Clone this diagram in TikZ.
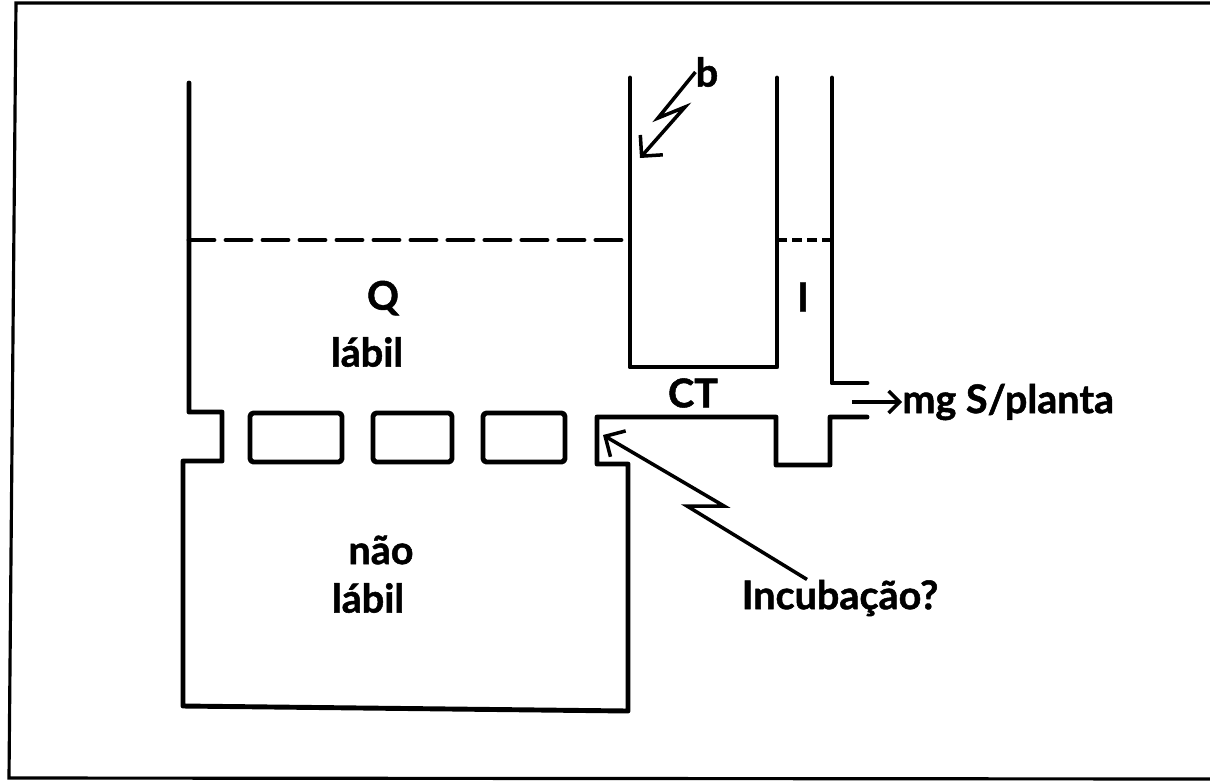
\documentclass[tikz,border=0pt]{standalone}
\usepackage{fontspec}
\setmainfont{Lato}[BoldFeatures={FakeBold=1.3}]
\usetikzlibrary{arrows.meta}

\begin{document}
\begin{tikzpicture}[x=0.02cm,y=-0.02cm,
    wall/.style={line width=2.8pt,line join=round,line cap=round},
    lbl/.style={font=\fontsize{22.5}{27}\selectfont\bfseries,inner sep=0pt},
    zig/.style={line width=2pt,line join=miter,
        -{Straight Barb[length=3mm,width=6mm,line width=2pt]}}]

    \useasboundingbox (0,0) rectangle (1210,782);

    % Frame
    \draw[line width=1.8pt] (1210,3) -- (16,3) -- (9,778) -- (1210,779);

    % Q labil and the lower box
    \draw[wall] (189,83) -- (189,412) -- (222,412) -- (222,461) -- (183,461)
                -- (183,706) -- (628,711) -- (628,464) -- (597,464) -- (597,417)
                -- (776,417) -- (776,465) -- (830,465) -- (830,417) -- (867,417);

    % Inner tube
    \draw[wall] (630,78) -- (630,367) -- (777,367) -- (777,78);

    % I tube
    \draw[wall] (832,78) -- (832,383) -- (867,383);

    % Blocks
    \foreach \xa/\xb in {250/342,373/452,483/565}
        \draw[wall,rounded corners=2pt] (\xa,413) rectangle (\xb,462);

    % Levels
    \draw[wall,dash pattern=on 0.5cm off 0.24cm] (189,240) -- (630,240);
    \draw[line width=2.2pt,dash pattern=on 0.2cm off 0.1cm] (777,240) -- (832,240);

    % Labels
    \node[lbl] (q) at (383,298) {Q};
    \node[lbl] (qlab) at (367,352) {lábil};
    \node[lbl] (b) at (707,72) {b};
    \node[lbl] (i) at (803,297) {I};
    \node[lbl] (ct) at (693,393) {CT};
    \node[lbl,anchor=west] (mg) at (902,402) {mg S/planta};
    \node[lbl] (nao) at (381,550) {não};
    \node[lbl] (nlab) at (368,598) {lábil};
    \node[lbl] (inc) at (840,598) {Incubação?};

    % Arrows
    \coordinate (btip) at (640,158);
    \coordinate (inctip) at (603,435);
    \draw[zig] (b.west) -- (658,118) -- (685,107) -- (btip);
    \draw[zig] ([xshift=-0.66cm]inc.north) -- (687,506) -- (724,506) -- (inctip);
    \draw[line width=2pt,-{Straight Barb[length=2.2mm,width=4.4mm,line width=2pt]}]
        (852,402) -- (mg.west);

\end{tikzpicture}
\end{document}
